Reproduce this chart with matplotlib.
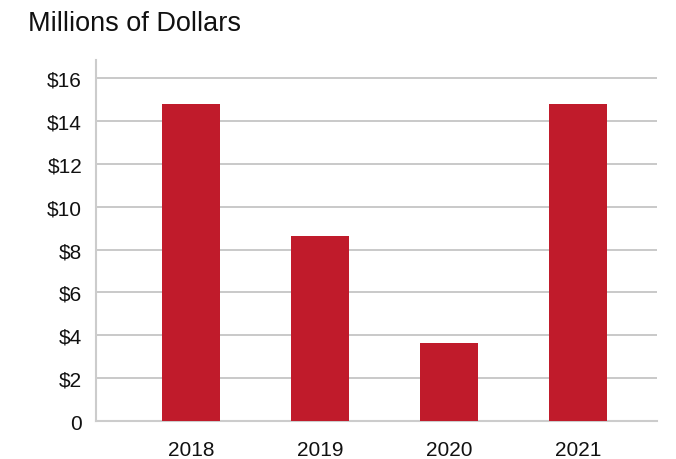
import matplotlib.pyplot as plt

years = ['2018', '2019', '2020', '2021']
values = [14.8, 8.65, 3.65, 14.8]
yticks = [0, 2, 4, 6, 8, 10, 12, 14, 16]
ylabels = ['0', '$2', '$4', '$6', '$8', '$10', '$12', '$14', '$16']

plt.rcParams['font.family'] = ['Liberation Sans', 'DejaVu Sans']

fig = plt.figure(figsize=(6.76, 4.6), dpi=100)
ax = fig.add_axes([0.142, 0.0826, 0.830, 0.7848])

x = range(len(years))
ax.bar(x, values, width=0.45, color='#C01B2B', zorder=3)

ax.set_ylim(0, 16.84)
ax.set_xlim(-0.736, 3.61)
ax.set_yticks(yticks)
ax.set_yticklabels(ylabels)
ax.set_xticks(list(x))
ax.set_xticklabels(years)
ax.tick_params(length=0, labelsize=15, colors='#111111')
ax.tick_params(axis='y', pad=10)
ax.tick_params(axis='x', pad=14)

ax.yaxis.grid(True, color='#C0C0C0', linewidth=1.2, zorder=0)
for s in ['top', 'right']:
    ax.spines[s].set_visible(False)
ax.spines['left'].set_color('#CCCCCC')
ax.spines['left'].set_linewidth(1.5)
ax.spines['bottom'].set_color('#CCCCCC')
ax.spines['bottom'].set_linewidth(1.5)

fig.text(0.041, 0.948, 'Millions of Dollars', fontsize=19.5, ha='left', va='center', color='#111111')

fig.savefig('out.png', dpi=100)
